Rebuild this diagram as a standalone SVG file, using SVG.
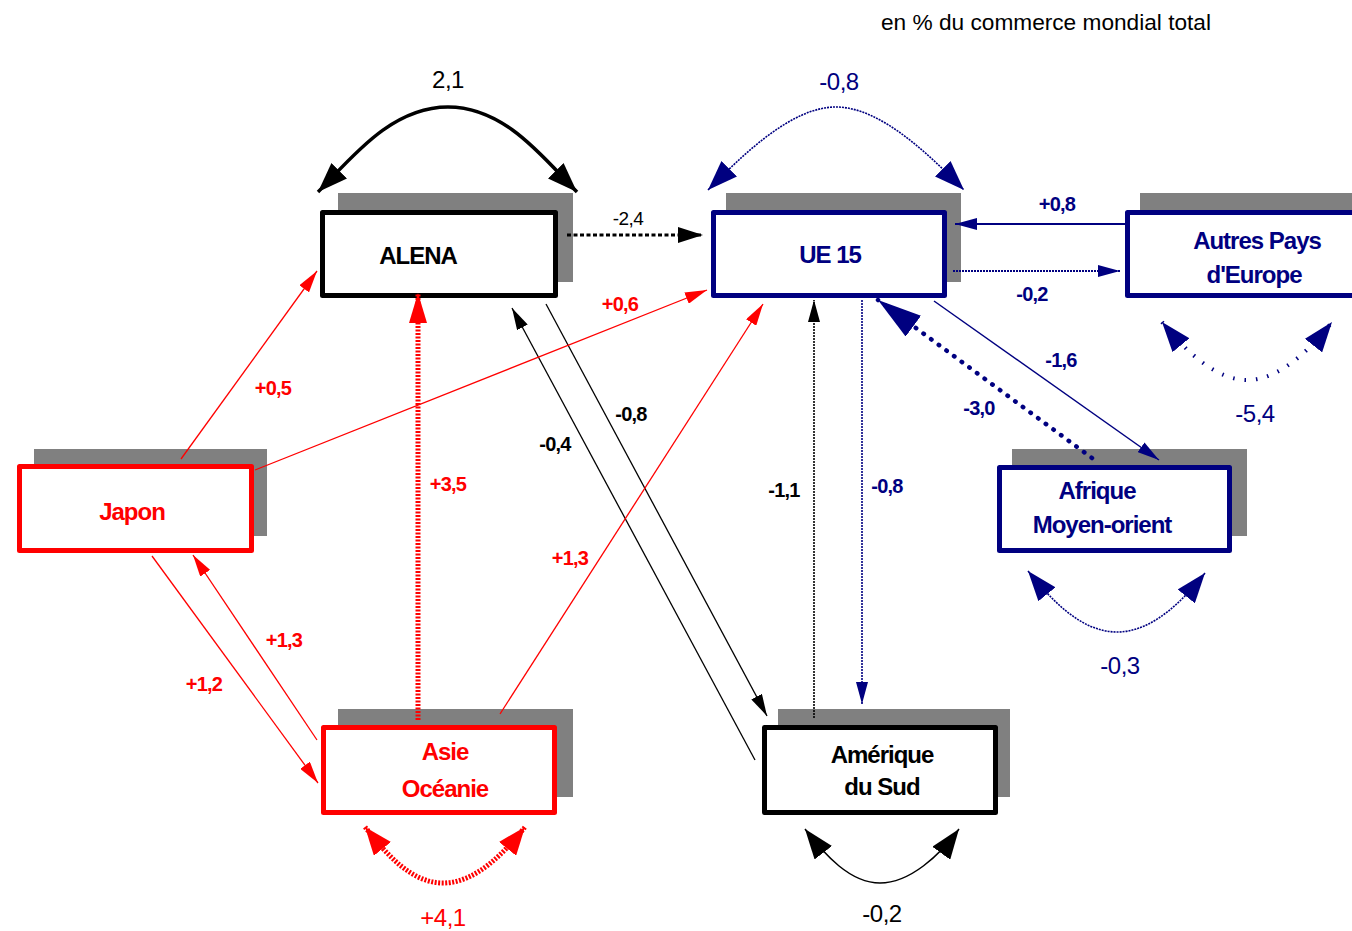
<svg xmlns="http://www.w3.org/2000/svg" width="1352" height="931" viewBox="0 0 1352 931">
<style>
.sh{fill:#808080}
.bx{fill:#fff;stroke-width:5;stroke-linejoin:round}
.k{stroke:#000}.n{stroke:#000080}.r{stroke:#ff0000}
.nt{font-family:"Liberation Sans",Arial,sans-serif;font-weight:bold;font-size:24px;letter-spacing:-1px;text-anchor:middle}
.lb{font-family:"Liberation Sans",Arial,sans-serif;font-weight:bold;font-size:20px;letter-spacing:-0.8px;text-anchor:middle}
.lr{font-family:"Liberation Sans",Arial,sans-serif;font-size:24px;letter-spacing:-0.5px;text-anchor:middle}
.fk{fill:#000}.fn{fill:#000080}.fr{fill:#ff0000}
.c{fill:none}
</style>
<defs>
<marker id="bk" markerUnits="userSpaceOnUse" markerWidth="30" markerHeight="22" refX="30" refY="11" orient="auto-start-reverse"><path d="M0,0 L30,11 L0,22 z" fill="#000"/></marker>
<marker id="bn" markerUnits="userSpaceOnUse" markerWidth="30" markerHeight="22" refX="30" refY="11" orient="auto-start-reverse"><path d="M0,0 L30,11 L0,22 z" fill="#000080"/></marker>
<marker id="br" markerUnits="userSpaceOnUse" markerWidth="28" markerHeight="22" refX="28" refY="11" orient="auto-start-reverse"><path d="M0,0 L28,11 L0,22 z" fill="#ff0000"/></marker>
<marker id="mk" markerUnits="userSpaceOnUse" markerWidth="25" markerHeight="16" refX="25" refY="8" orient="auto"><path d="M0,0 L25,8 L0,16 z" fill="#000"/></marker>
<marker id="hn" markerUnits="userSpaceOnUse" markerWidth="44" markerHeight="26" refX="44" refY="13" orient="auto"><path d="M0,0 L44,13 L0,26 z" fill="#000080"/></marker>
<marker id="sk" markerUnits="userSpaceOnUse" markerWidth="22" markerHeight="12" refX="22" refY="6" orient="auto"><path d="M0,0 L22,6 L0,12 z" fill="#000"/></marker>
<marker id="sn" markerUnits="userSpaceOnUse" markerWidth="22" markerHeight="12" refX="22" refY="6" orient="auto"><path d="M0,0 L22,6 L0,12 z" fill="#000080"/></marker>
<marker id="sr" markerUnits="userSpaceOnUse" markerWidth="22" markerHeight="12" refX="22" refY="6" orient="auto"><path d="M0,0 L22,6 L0,12 z" fill="#ff0000"/></marker>
<marker id="tr" markerUnits="userSpaceOnUse" markerWidth="30" markerHeight="18" refX="30" refY="9" orient="auto"><path d="M0,0 L30,9 L0,18 z" fill="#ff0000"/></marker>
</defs>
<rect width="1352" height="931" fill="#fff"/>
<text x="881" y="30" font-family="'Liberation Sans',Arial,sans-serif" font-size="22" textLength="330" lengthAdjust="spacingAndGlyphs">en % du commerce mondial total</text>

<g id="alena"><rect class="sh" x="338" y="193" width="235" height="89"/><rect class="bx k" x="322.5" y="212.5" width="233" height="83"/><text class="nt fk" x="418" y="264">ALENA</text></g>
<g id="ue15"><rect class="sh" x="726" y="193" width="235" height="89"/><rect class="bx n" x="713.5" y="212.5" width="231" height="83"/><text class="nt fn" x="830" y="263">UE 15</text></g>
<g id="autres"><rect class="sh" x="1140" y="193" width="240" height="89"/><rect class="bx n" x="1127.5" y="212.5" width="240" height="83"/><text class="nt fn" x="1257" y="249">Autres Pays</text><text class="nt fn" x="1254" y="283">d'Europe</text></g>
<g id="japon"><rect class="sh" x="34" y="449" width="233" height="87"/><rect class="bx r" x="19.5" y="466.5" width="232" height="84"/><text class="nt fr" x="132" y="520">Japon</text></g>
<g id="asie"><rect class="sh" x="338" y="709" width="235" height="88"/><rect class="bx r" x="323.5" y="727.5" width="231" height="85"/><text class="nt fr" x="445" y="760">Asie</text><text class="nt fr" x="445" y="797">Océanie</text></g>
<g id="amerique"><rect class="sh" x="778" y="709" width="232" height="88"/><rect class="bx k" x="764.5" y="727.5" width="231" height="85"/><text class="nt fk" x="882" y="763">Amérique</text><text class="nt fk" x="882" y="795">du Sud</text></g>
<g id="afrique"><rect class="sh" x="1012" y="449" width="235" height="87"/><rect class="bx n" x="999.5" y="467.5" width="230" height="83"/><text class="nt fn" x="1097" y="499">Afrique</text><text class="nt fn" x="1102" y="533">Moyen-orient</text></g>

<g id="connectors">
<path class="c" d="M318,192 C350,160 390,107 448,107 C506,107 545,160 577,192" stroke="#000" stroke-width="3.5" marker-start="url(#bk)" marker-end="url(#bk)"/>
<path class="c" d="M708,190 C740,158 790,107 836,107 C882,107 932,158 964,190" stroke="#000080" stroke-width="1.6" stroke-dasharray="2 1" marker-start="url(#bn)" marker-end="url(#bn)"/>
<path class="c" d="M1162,322 C1185,350 1215,380 1247,380 C1279,380 1310,350 1332,322" stroke="#000080" stroke-width="4" stroke-dasharray="1.5 10" marker-start="url(#bn)" marker-end="url(#bn)"/>
<path class="c" d="M365,827 C385,852 410,883 443,883 C476,883 505,852 525,827" stroke="#ff0000" stroke-width="5" stroke-dasharray="2 1.5" marker-start="url(#br)" marker-end="url(#br)"/>
<path class="c" d="M1028,571 C1050,598 1080,632 1117,632 C1154,632 1185,598 1205,573" stroke="#000080" stroke-width="1.6" stroke-dasharray="2 1" marker-start="url(#bn)" marker-end="url(#bn)"/>
<path class="c" d="M805,829 C825,855 850,883 880,883 C910,883 940,855 959,829" stroke="#000" stroke-width="1.5" marker-start="url(#bk)" marker-end="url(#bk)"/>
<line x1="567" y1="235" x2="703" y2="235" stroke="#000" stroke-width="3" stroke-dasharray="4 2.5" marker-end="url(#mk)"/>
<line x1="1125" y1="224" x2="955" y2="224" stroke="#000080" stroke-width="2" marker-end="url(#sn)"/>
<line x1="953" y1="271" x2="1120" y2="271" stroke="#000080" stroke-width="2" stroke-dasharray="2 1" marker-end="url(#sn)"/>
<line x1="934" y1="301" x2="1159" y2="460" stroke="#000080" stroke-width="1.5" marker-end="url(#sn)"/>
<line x1="1092" y1="458" x2="878" y2="300" stroke="#000080" stroke-width="4.5" stroke-linecap="round" stroke-dasharray="0.5 9" marker-end="url(#hn)"/>
<line x1="862" y1="300" x2="862" y2="704" stroke="#000080" stroke-width="1.6" stroke-dasharray="2 1" marker-end="url(#sn)"/>
<line x1="814" y1="718" x2="814" y2="300" stroke="#000" stroke-width="1.6" stroke-dasharray="2 1" marker-end="url(#sk)"/>
<line x1="546" y1="304" x2="767" y2="716" stroke="#000" stroke-width="1.3" marker-end="url(#sk)"/>
<line x1="755" y1="760" x2="512" y2="308" stroke="#000" stroke-width="1.3" marker-end="url(#sk)"/>
<line x1="181" y1="459" x2="317" y2="271" stroke="#ff0000" stroke-width="1.3" marker-end="url(#sr)"/>
<line x1="255" y1="470" x2="707" y2="290" stroke="#ff0000" stroke-width="1.3" marker-end="url(#sr)"/>
<line x1="500" y1="714" x2="763" y2="304" stroke="#ff0000" stroke-width="1.3" marker-end="url(#sr)"/>
<line x1="418" y1="720" x2="418" y2="293" stroke="#ff0000" stroke-width="5" stroke-dasharray="2 1.5" marker-end="url(#tr)"/>
<line x1="152" y1="556" x2="318" y2="783" stroke="#ff0000" stroke-width="1.3" marker-end="url(#sr)"/>
<line x1="317" y1="740" x2="193" y2="555" stroke="#ff0000" stroke-width="1.3" marker-end="url(#sr)"/>
</g>

<g id="labels">
<text class="lr fk" x="448" y="88">2,1</text>
<text class="lr fn" x="839" y="90">-0,8</text>
<text class="lr fn" x="1255" y="422">-5,4</text>
<text class="lr fn" x="1120" y="674">-0,3</text>
<text class="lr fk" x="882" y="922">-0,2</text>
<text class="lr fr" x="443" y="926">+4,1</text>
<text x="628" y="225" font-family="'Liberation Sans',Arial,sans-serif" font-size="19" letter-spacing="-0.5" text-anchor="middle">-2,4</text>
<text class="lb fn" x="1057" y="211">+0,8</text>
<text class="lb fn" x="1032" y="301">-0,2</text>
<text class="lb fn" x="1061" y="367">-1,6</text>
<text class="lb fn" x="979" y="415">-3,0</text>
<text class="lb fn" x="887" y="493">-0,8</text>
<text class="lb fk" x="784" y="497">-1,1</text>
<text class="lb fk" x="631" y="421">-0,8</text>
<text class="lb fk" x="555" y="451">-0,4</text>
<text class="lb fr" x="620" y="311">+0,6</text>
<text class="lb fr" x="273" y="395">+0,5</text>
<text class="lb fr" x="448" y="491">+3,5</text>
<text class="lb fr" x="570" y="565">+1,3</text>
<text class="lb fr" x="284" y="647">+1,3</text>
<text class="lb fr" x="204" y="691">+1,2</text>
</g>
</svg>
